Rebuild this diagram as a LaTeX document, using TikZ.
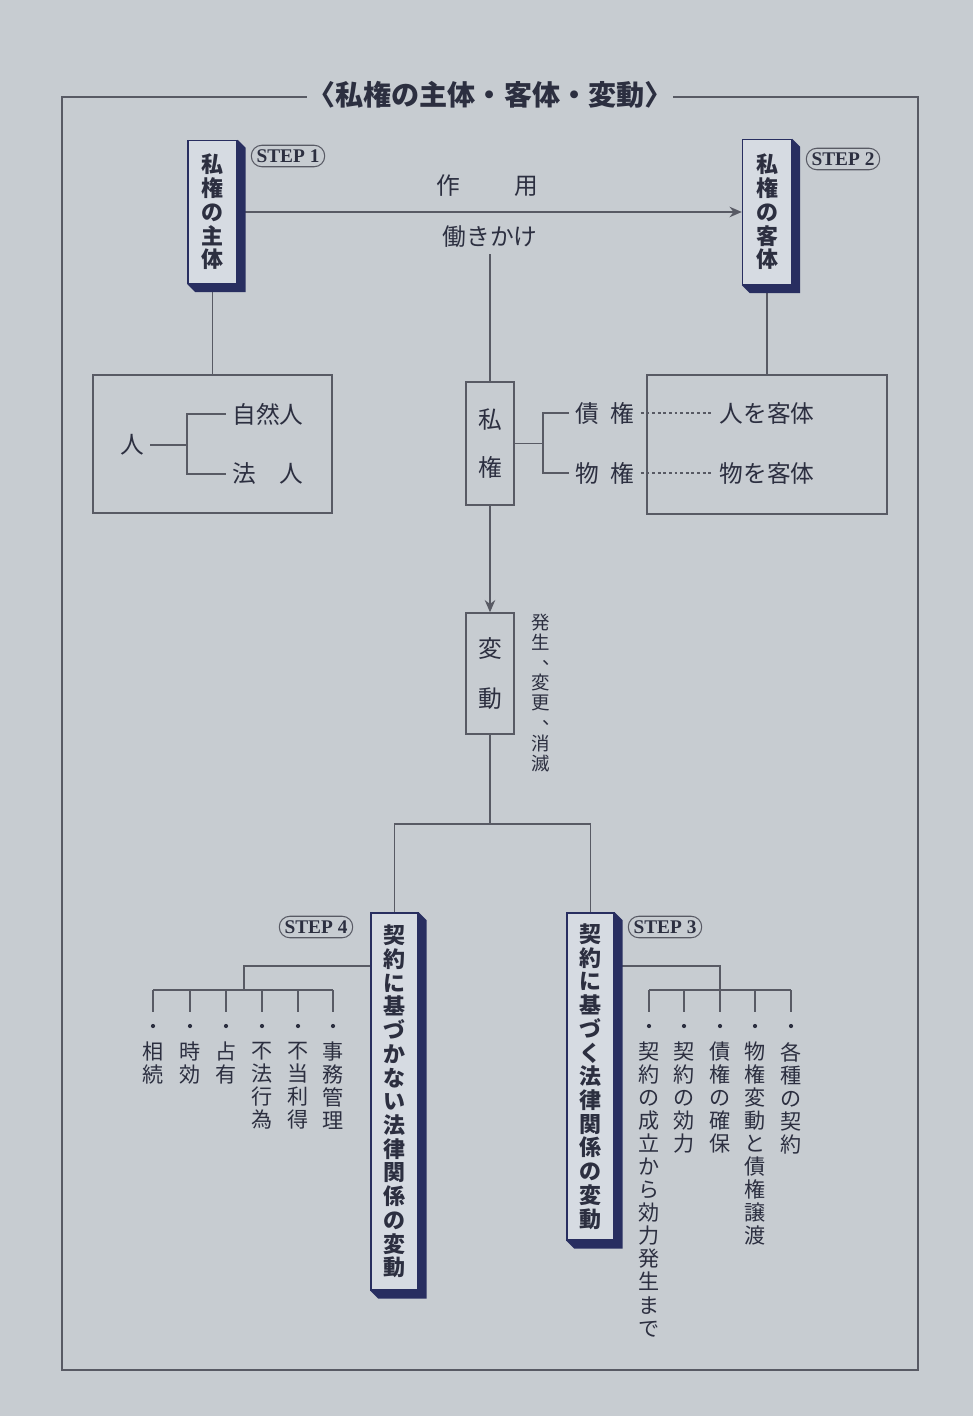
\documentclass[tikz,border=0pt]{standalone}
\usepackage{fontspec}
\setmainfont{Noto Sans CJK JP}
\newfontfamily\stepfont{Liberation Serif}
\usetikzlibrary{arrows.meta,calc,positioning}

\definecolor{paper}{RGB}{199,204,209}
\definecolor{face}{RGB}{214,219,226}
\definecolor{navy}{RGB}{40,46,96}
\definecolor{ink}{RGB}{88,90,100}
\definecolor{inkt}{RGB}{44,47,64}

% vertical text: one character per line
\makeatletter
\newcommand\tate[1]{\expandafter\tate@a#1\@nil}
\def\tate@a#1#2\@nil{#1\ifx\relax#2\relax\else\\\tate@a#2\@nil\fi}
\makeatother
\newcommand\tcomma{\makebox[1em][l]{\hspace*{0.6em}\raisebox{0.3em}{、}}}
\newcommand\boxshadow[1]{\fill[navy] (#1.north east) -- ++(8,8) |- ($(#1.south west)+(8,8)$) -- (#1.south west) -- (#1.south east) -- cycle;}

\tikzset{
	line/.style={draw=ink, line width=0.75pt},
	dotline/.style={draw=ink, line width=0.6pt, dash pattern=on 1.6pt off 1.6pt},
	plainbox/.style={draw=ink, line width=0.8pt},
	stepbox/.style={draw=navy, line width=0.8pt, fill=face, align=center, text=inkt, inner sep=0pt,
		font=\bfseries\fontsize{12.5}{13.5}\selectfont},
	steptag/.style={draw=ink, line width=0.6pt, rounded corners=0.21cm, minimum height=0.43cm,
		inner xsep=3pt, inner ysep=1pt, text=inkt, font=\stepfont\bfseries\fontsize{11}{12}\selectfont},
	word/.style={text=inkt, font=\fontsize{13.5}{15}\selectfont},
	leaf/.style={anchor=north, align=center, text=inkt, inner sep=1pt, font=\fontsize{12}{13.1}\selectfont},
	title/.style={fill=paper, text=inkt, inner xsep=0pt, font=\bfseries\fontsize{16}{17}\selectfont}
}

\begin{document}
\begin{tikzpicture}[x=0.02cm,y=-0.02cm]
	\fill[paper] (0,0) rectangle (973,1416);
	\useasboundingbox (0,0) rectangle (973,1416);

	% frame and heading
	\draw[line, line width=0.85pt] (62,97) rectangle (918,1370);
	\node[title] (head) at (490,95) {〈私権の主体・客体・変動〉};

	% step 1 and step 2
	\node[stepbox, minimum width=0.98cm, minimum height=2.86cm] (subj) at (212.5,212) {\tate{私権の主体}};
	\node[steptag] (tag1) at (288,156) {STEP 1};
	\node[stepbox, minimum width=0.98cm, minimum height=2.9cm] (obj) at (767,212) {\tate{私権の客体}};
	\node[steptag] (tag2) at (843,159) {STEP 2};
	\draw[line, -{Stealth[length=7pt,width=6pt]}] (subj) -- (obj);
	\node[word] (act) at (487,186) {作\hspace{2.3em}用};
	\node[word] (work) at (490,237) {働きかけ};

	% persons
	\node[plainbox, minimum width=4.78cm, minimum height=2.76cm] (person) at (212.5,444) {};
	\draw[line] (subj) -- (person);
	\node[word] (hito) at (132,445) {人};
	\node[word] (natural) at (268,414) {自然人};
	\node[word] (juridical) at (268,474) {法　人};
	\coordinate (pfork) at (187,445);
	\draw[line] (hito) -- (pfork) |- (natural);
	\draw[line] (pfork) |- (juridical);

	% private rights
	\node[plainbox, word, align=center, minimum width=0.96cm, minimum height=2.46cm,
		font=\fontsize{13.5}{27}\selectfont] (priv) at (490,443.5) {私\\権};
	\draw[line] (work) -- (priv);
	\coordinate (rfork) at (543,443.5);
	\node[word] (claim) at (605,413) {債\hspace{0.5em}権};
	\node[word] (real) at (605,473) {物\hspace{0.5em}権};
	\draw[line] (priv) -- (rfork) |- (claim);
	\draw[line] (rfork) |- (real);

	% objects
	\node[plainbox, minimum width=4.8cm, minimum height=2.78cm] (objbox) at (767,444.5) {};
	\draw[line] (obj) -- (objbox);
	\node[word] (claimobj) at (767,413) {人を客体};
	\node[word] (realobj) at (767,473) {物を客体};
	\draw[dotline] (claim) -- (claimobj);
	\draw[dotline] (real) -- (realobj);

	% change
	\node[plainbox, word, align=center, minimum width=0.96cm, minimum height=2.42cm,
		font=\fontsize{13.5}{28}\selectfont] (change) at (490,673.5) {変\\動};
	\draw[line, -{Stealth[length=7pt,width=6pt]}] (priv) -- (change);
	\node[text=inkt, align=center, font=\fontsize{10.5}{11.4}\selectfont] (occur) at (541,693)
		{発\\生\\\tcomma\\変\\更\\\tcomma\\消\\滅};

	% step 3 and step 4
	\coordinate (split) at (490,824);
	\node[stepbox, minimum width=0.94cm, minimum height=7.54cm] (nocontract) at (394.5,1101.5)
		{\tate{契約に基づかない法律関係の変動}};
	\node[stepbox, minimum width=0.94cm, minimum height=6.54cm] (contract) at (590.5,1076.5)
		{\tate{契約に基づく法律関係の変動}};
	\node[steptag] (tag4) at (316,927) {STEP 4};
	\node[steptag] (tag3) at (665,927) {STEP 3};
	\draw[line] (change) -- (split);
	\draw[line] (split) -| (nocontract);
	\draw[line] (split) -| (contract);

	% leaves of step 4
	\coordinate (lfork) at (244,990);
	\draw[line] (nocontract.west |- 0,966) -| (lfork);
	\draw[line] (153,990) -- (333,990);
	\foreach \x/\nm/\lbl in {153/inherit/相続, 190/prescr/時効, 226/possess/占有,
		262/tort/不法行為, 298/unjust/不当利得, 333/mgmt/事務管理} {
		\node[leaf] (\nm) at (\x,1040) {\tate{\lbl}};
		\draw[line] (\nm.north |- lfork) -- ++(0,22);
		\fill[inkt] (\x,1026) circle (1.2pt);
	}

	% leaves of step 3
	\coordinate (cfork) at (720,990);
	\draw[line] (contract.east |- 0,966) -| (cfork);
	\draw[line] (649,990) -- (791,990);
	\foreach \x/\nm/\lbl in {649/formation/契約の成立から効力発生まで, 684/effect/契約の効力,
		720/security/債権の確保, 755/transfer/物権変動と債権譲渡, 791/kinds/各種の契約} {
		\node[leaf] (\nm) at (\x,1040) {\tate{\lbl}};
		\draw[line] (\nm.north |- cfork) -- ++(0,22);
		\fill[inkt] (\x,1026) circle (1.2pt);
	}

	% shadows of the step boxes
	\boxshadow{subj}
	\boxshadow{obj}
	\boxshadow{nocontract}
	\boxshadow{contract}
\end{tikzpicture}
\end{document}
